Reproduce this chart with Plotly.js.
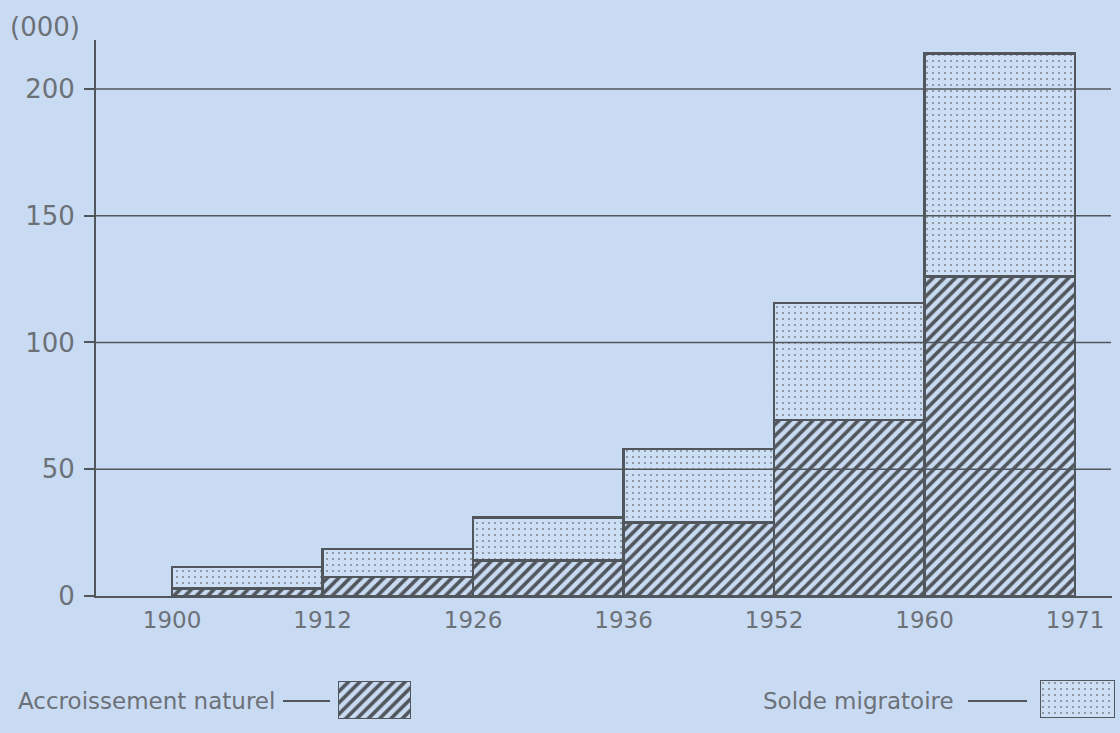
<!DOCTYPE html>
<html>
<head>
<meta charset="utf-8">
<script src="https://cdn.plot.ly/plotly-3.0.1.min.js"></script>
<style>html,body{margin:0;padding:0;background:#c9dbf2;}#chart{width:1120px;height:733px;}</style>
</head>
<body>
<div id="chart"></div>
<script>
// ---- data ----
const periods = ["1900-1912", "1912-1926", "1926-1936", "1936-1952", "1952-1960", "1960-1971"];
const naturel = [3, 7.5, 14, 29, 69.5, 126];
const migratoire = [8.5, 11, 17, 29, 46, 88];
const tickYears = ["1900", "1912", "1926", "1936", "1952", "1960", "1971"];
const yTicks = [0, 50, 100, 150, 200];
const labelNaturel = "Accroissement naturel";
const labelMigratoire = "Solde migratoire";
const unitLabel = "(000)";

// ---- styling ----
const BG = "#c9dbf2";
const INK = "#51565d";
const TXT = "#6c7178";
const FONT = "DejaVu Sans, Liberation Sans, sans-serif";
const W = 1120, H = 733;
const M = {l: 96, r: 5, t: 40, b: 10};
const PW = W - M.l - M.r, PH = H - M.t - M.b;
const px = x => (x - M.l) / PW;           // pixel -> paper x
const py = y => (H - M.b - y) / PH;       // pixel -> paper y

const hatch = {shape: "/", fgcolor: INK, bgcolor: BG, size: 8, solidity: 0.45, fillmode: "replace"};
const dots = {shape: ".", fgcolor: "#838991", bgcolor: "#cddff5", size: 6, solidity: 0.1, fillmode: "replace"};
const outline = {color: INK, width: 2.5};

const xs = periods.map((p, i) => i + 0.5);

const traces = [
  {type: "bar", x: xs, y: naturel, width: 1, name: labelNaturel, hovertext: periods, hoverinfo: "text+y",
   textposition: "none",
   marker: {color: BG, pattern: hatch, line: outline}, xaxis: "x", yaxis: "y"},
  {type: "bar", x: xs, y: migratoire, width: 1, name: labelMigratoire, hovertext: periods, hoverinfo: "text+y",
   textposition: "none",
   marker: {color: "#cddff5", pattern: dots, line: outline}, xaxis: "x", yaxis: "y"},
  // legend swatches
  {type: "bar", x: [0.5], y: [1], width: 1, marker: {color: BG, pattern: hatch, line: outline},
   xaxis: "x2", yaxis: "y2", hoverinfo: "skip"},
  {type: "bar", x: [0.5], y: [1], width: 1, marker: {color: "#cddff5", pattern: dots, line: outline},
   xaxis: "x3", yaxis: "y3", hoverinfo: "skip"}
];

const hidden = {visible: false, range: [0, 1], fixedrange: true};

const shapes = yTicks.filter(v => v > 0).map(v => ({
  type: "line", xref: "paper", yref: "y", x0: 0, x1: px(1111), y0: v, y1: v,
  line: {color: INK, width: 1.6}, layer: "above"
}));
shapes.push({type: "line", xref: "paper", yref: "paper", x0: px(283), x1: px(330), y0: py(701), y1: py(701), line: {color: INK, width: 2}});
shapes.push({type: "line", xref: "paper", yref: "paper", x0: px(968), x1: px(1027), y0: py(701), y1: py(701), line: {color: INK, width: 2}});

const layout = {
  width: W, height: H,
  margin: M,
  paper_bgcolor: BG, plot_bgcolor: BG,
  barmode: "stack", bargap: 0,
  showlegend: false,
  font: {family: FONT, color: TXT},
  xaxis: {
    domain: [0, px(1112)],
    range: [-0.505, 6.245],
    tickmode: "array", tickvals: tickYears.map((t, i) => i), ticktext: tickYears,
    ticks: "", showgrid: false, zeroline: false,
    showline: true, linecolor: INK, linewidth: 2,
    tickfont: {family: FONT, size: 23, color: TXT},
    ticklabelstandoff: 2, fixedrange: true
  },
  yaxis: {
    domain: [py(596), 1],
    range: [0, 219.3],
    tickmode: "array", tickvals: yTicks, ticktext: yTicks.map(String),
    ticks: "outside", ticklen: 10, tickwidth: 2, tickcolor: INK,
    showgrid: false, zeroline: false,
    showline: true, linecolor: INK, linewidth: 2,
    tickfont: {family: FONT, size: 26, color: TXT},
    ticklabelstandoff: 4, fixedrange: true
  },
  xaxis2: Object.assign({domain: [px(338), px(411)], anchor: "y2"}, hidden),
  yaxis2: Object.assign({domain: [py(719), py(681)], anchor: "x2"}, hidden),
  xaxis3: Object.assign({domain: [px(1040), px(1115)], anchor: "y3"}, hidden),
  yaxis3: Object.assign({domain: [py(718), py(680)], anchor: "x3"}, hidden),
  shapes: shapes,
  annotations: [
    {text: unitLabel, xref: "paper", yref: "paper", x: px(8), y: py(27), xanchor: "left", yanchor: "middle",
     showarrow: false, font: {family: FONT, size: 26, color: TXT}},
    {text: labelNaturel, xref: "paper", yref: "paper", x: px(16), y: py(701), xanchor: "left", yanchor: "middle",
     showarrow: false, font: {family: FONT, size: 23, color: TXT}},
    {text: labelMigratoire, xref: "paper", yref: "paper", x: px(956), y: py(701), xanchor: "right", yanchor: "middle",
     showarrow: false, font: {family: FONT, size: 23, color: TXT}}
  ]
};

Plotly.newPlot("chart", traces, layout, {displayModeBar: false, staticPlot: true});
</script>
</body>
</html>
